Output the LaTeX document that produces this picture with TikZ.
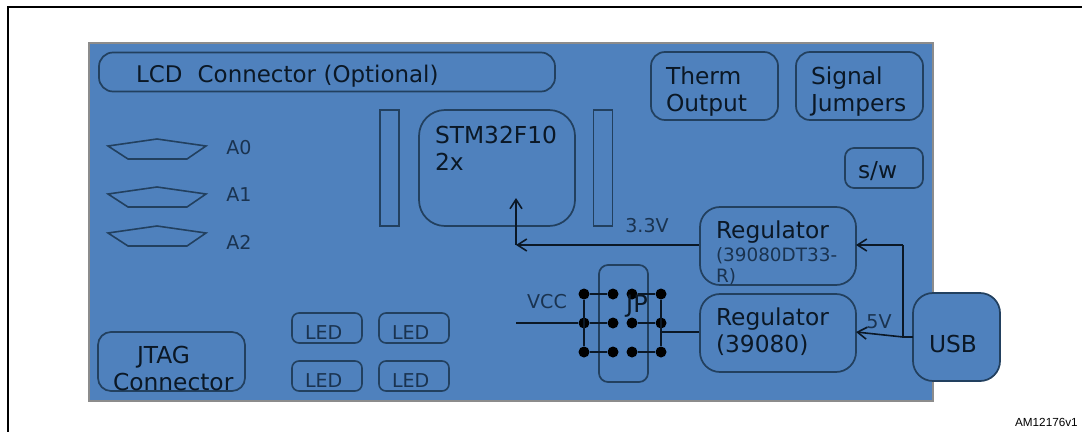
\documentclass[tikz,border=0pt]{standalone}
\usepackage{fontspec}
\setmainfont{DejaVu Sans}
\newfontfamily\tagfont{Liberation Sans}
\usetikzlibrary{shapes,arrows,arrows.meta}
\definecolor{boardblue}{HTML}{4F81BD}
\definecolor{boxline}{HTML}{22405F}
\definecolor{inktext}{HTML}{0B1826}
\definecolor{softtext}{HTML}{1A3350}
\def\px{.75pt}
\tikzstyle{block} = [rectangle, draw=boxline, line width=1.3pt, rounded corners=14*\px,
    text=inktext, align=left, inner ysep=0pt, font=\fontsize{17.5}{20.5}\selectfont]
\tikzstyle{bar} = [rectangle, draw=boxline, line width=1.2pt, minimum width=19*\px, minimum height=116*\px, inner sep=0pt]
\tikzstyle{ledbox} = [rectangle, draw=boxline, line width=1.2pt, rounded corners=7*\px, minimum height=30*\px,
    inner xsep=13*\px, inner ysep=0pt, text width=44*\px, text=softtext, text height=22*\px, text depth=0pt, font=\fontsize{14.3}{16}\selectfont]
\tikzstyle{padtext} = [text=softtext, font=\fontsize{14.3}{16}\selectfont, inner sep=0pt]
\tikzstyle{dot} = [circle, fill=black, minimum size=11*\px, inner sep=0pt]
\tikzstyle{line} = [draw=inktext, line width=1.2pt]
\tikzstyle{arrowline} = [line, -{Straight Barb[length=7pt,width=9pt]}]

\begin{document}
\begin{tikzpicture}[x=.75pt, y=-.75pt]
  \useasboundingbox (0,0) rectangle (1082,432);

  % Frame and board
  \draw [black, line width=1.6pt] (8,432) -- (8,7) -- (1082,7);
  \node [rectangle, draw=black!45, fill=boardblue, line width=.8pt, minimum width=844*\px, minimum height=358*\px, inner sep=0pt] (board) at (511,222) {};

  % Place nodes
  \node [block, minimum height=39*\px, inner xsep=37*\px, text width=382*\px, text height=21*\px, text depth=0pt, font=\fontsize{17.2}{20.5}\selectfont] (lcd) at (327,72) {LCD\ \ Connector (Optional)};
  \node [block, inner xsep=15*\px, text width=97*\px, minimum height=68*\px, text height=20*\px, text depth=24*\px] (therm) at (714.5,86) {Therm\\Output};
  \node [block, inner xsep=15*\px, text width=97*\px, minimum height=68*\px, text height=20*\px, text depth=24*\px] (signal) at (859.5,86) {Signal\\Jumpers};
  \node [block, inner xsep=13*\px, text width=52*\px, minimum height=40*\px, rounded corners=9*\px, text height=20*\px, text depth=0pt] (sw) at (884,168) {s/w};

  \node [bar] (leftBar) at (389.5,168) {};
  \node [bar] (rightBar) at (603,168) {};
  \node [block, inner xsep=16*\px, text width=124*\px, minimum height=116*\px, rounded corners=26*\px, text height=16*\px, text depth=66*\px] (chip) at (497,168) {STM32F10\\2x};

  \node [block, inner xsep=16*\px, text width=124*\px, minimum height=78*\px, rounded corners=20*\px, text height=16*\px, text depth=32*\px] (regThree) at (778,246) {Regulator\\[1.7pt]{\fontsize{13.8}{16}\selectfont\color{softtext}(39080DT33-\\[-4.5pt]R)}};
  \node [block, inner xsep=16*\px, text width=124*\px, minimum height=78*\px, rounded corners=20*\px, text height=16*\px, text depth=32*\px] (regFive) at (778,333) {Regulator\\(39080)};
  \node [block, fill=boardblue, inner xsep=16*\px, text width=55*\px, minimum height=88*\px, rounded corners=20*\px, text height=30*\px, text depth=0pt] (usb) at (956.5,337) {USB};
  \node [block, minimum width=49*\px, minimum height=117*\px, inner sep=0pt, rounded corners=9*\px] (jp) at (623.5,323.5) {};

  \node [ledbox] (ledA) at (327,328) {LED};
  \node [ledbox] (ledB) at (414,328) {LED};
  \node [ledbox, below of=ledA, node distance=48*\px] (ledC) {LED};
  \node [ledbox, below of=ledB, node distance=48*\px] (ledD) {LED};
  \node [block, inner xsep=15*\px, text width=117*\px, minimum height=59*\px, rounded corners=13*\px, text height=24*\px, text depth=21*\px] (jtag) at (171.5,361.5) {\hspace*{18pt}JTAG\\Connector};

  % Analog pads
  \foreach \name/\ytop/\ypos in {A0/139/148, A1/187/195, A2/226/242}{
    \coordinate (pad\name) at (157,\ytop);
    \draw [boxline, line width=1.2pt] (pad\name) -- ++(49,7) -- ++(-19,13) -- ++(-59,0) -- ++(-20,-13) -- cycle;
    \node [padtext] (label\name) at (239,\ypos) {\name};
  }

  % Jumper pins
  \foreach \row/\ypos in {a/294, b/323, c/352}{
    \foreach \col/\xpos in {a/584, b/613, c/632, d/661}{
      \node [dot] (pin\col\row) at (\xpos,\ypos) {};
    }
    \draw [line] (pina\row) -- (pinb\row);
    \draw [line] (pinc\row) -- (pind\row);
  }
  \draw [line] (pinaa) -- (pinac);
  \draw [line] (pinda) -- (pindc);
  \node [text=inktext, font=\fontsize{18}{20}\selectfont, inner sep=0pt] (jpLabel) at (637,306) {JP};

  % Voltage labels
  \node [padtext] (vccLabel) at (547,302) {VCC};
  \node [padtext] (threeLabel) at (647,226) {3.3V};
  \node [padtext] (fiveLabel) at (879,322) {5V};
  \node [text=black, font=\tagfont\fontsize{8.8}{10}\selectfont, inner sep=0pt, anchor=east] (tag) at (1078,422) {AM12176v1};

  % Free ends of the wires
  \coordinate (vccEnd) at (516,323);
  \coordinate (railTop) at (903,245);
  \coordinate (railFoot) at (903,337);
  \coordinate (usbIn) at (913,337);
  \coordinate (chipTurn) at (516,245);
  \coordinate (chipIn) at (516,198);
  \coordinate (fiveIn) at (856,332);
  \coordinate (threeIn) at (856,245);
  \coordinate (jumperOut) at (661,332);

  % Draw edges
  \path [line] (vccEnd) -- (pinab);
  \path [line] (jumperOut) -- (regFive.west |- jumperOut);
  \path [line] (usbIn) -- (railFoot) -- (railTop);
  \path [arrowline] (railFoot) -- (fiveIn);
  \path [arrowline] (railTop) -- (threeIn);
  \path [arrowline] (regThree.west |- threeIn) -- (chipTurn);
  \path [arrowline] (chipTurn) -- (chipIn);
\end{tikzpicture}
\end{document}
